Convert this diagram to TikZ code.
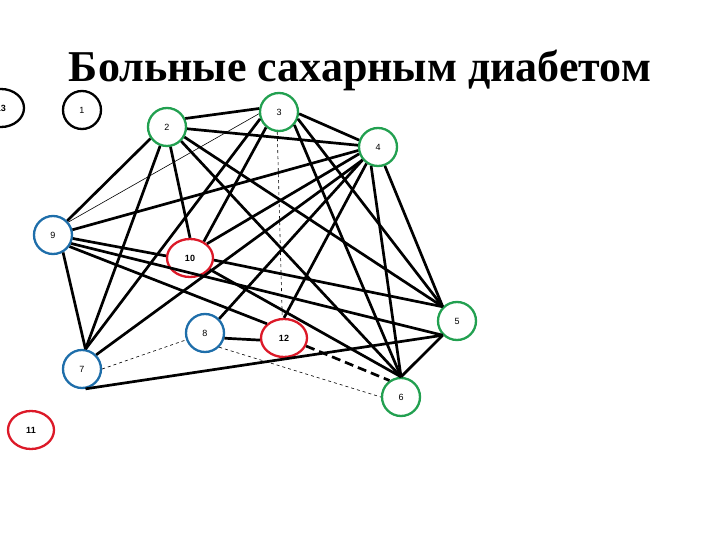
\documentclass[tikz,border=0pt]{standalone}
\usepackage{fontspec}
\setmainfont{Liberation Serif}
\newfontfamily\lab{Liberation Sans}
\usetikzlibrary{shapes.geometric}
\definecolor{gr}{RGB}{34,160,80}
\definecolor{bl}{RGB}{30,110,170}
\definecolor{rd}{RGB}{220,25,40}
\begin{document}
\begin{tikzpicture}[x=1pt,y=-1pt,
  vtx/.style={circle,draw,line width=2.3pt,minimum size=38pt,inner sep=0pt,fill=white,font=\lab\fontsize{9}{10}\selectfont},
  ell/.style={ellipse,draw,line width=2.3pt,minimum width=46pt,minimum height=38pt,inner sep=0pt,fill=white,font=\lab\bfseries\fontsize{9}{10}\selectfont},
  edge/.style={line width=2.7pt},
  thinedge/.style={line width=0.6pt},
  dashedge/.style={line width=0.6pt,dashed},
  bigdash/.style={line width=2.7pt,dash pattern=on 9pt off 5pt}]
\useasboundingbox (0,0) rectangle (720,540);
\node[anchor=base,font=\bfseries\fontsize{44}{52}\selectfont] (title) at (360,82) {Больные сахарным диабетом};
\node[ell] (n13) at (1,108) {13};
\node[vtx] (n1) at (82,110) {1};
\node[vtx,draw=gr] (n2) at (167,127) {2};
\node[vtx,draw=gr] (n3) at (279,112) {3};
\node[vtx,draw=gr] (n4) at (378,147) {4};
\node[vtx,draw=bl] (n9) at (53,235) {9};
\node[ell,draw=rd] (n10) at (190,258) {10};
\node[vtx,draw=bl] (n8) at (205,333) {8};
\node[ell,draw=rd] (n12) at (284,338) {12};
\node[vtx,draw=gr] (n5) at (457,321) {5};
\node[vtx,draw=gr] (n6) at (401,397) {6};
\node[vtx,draw=bl] (n7) at (82,369) {7};
\node[ell,draw=rd] (n11) at (31,430) {11};
% thick edges
\draw[edge] (n2.25) -- (n3.170);
\draw[edge] (n2.-5) -- (n4.175);
\draw[edge] (n3.-5) -- (n4.160);
\draw[edge] (n2.215) -- (n9.45);
\draw[edge] (n4.190) -- (n9.15);
\draw[edge] (n2.280) -- (n10.north);
\draw[edge] (n2.250) -- (n7.80);
\draw[edge] (n3.200) -- (n7.80);
\draw[edge] (n9.300) -- (n7.80);
\draw[edge] (n4.220) -- (n7.45);
\draw[edge] (n3.230) -- (n10.50);
\draw[edge] (n4.200) -- (n10.40);
\draw[edge] (n4.220) -- (n8.45);
\draw[edge] (n4.235) -- (n12.north);
\draw[edge] (n4.250) -- (n6.north);
\draw[edge] (n4.290) -- (n5.north west);
\draw[edge] (n3.-20) -- (n5.north west);
\draw[edge] (n3.-40) -- (n6.north);
\draw[edge] (n2.-30) -- (n5.north west);
\draw[edge] (n2.-45) -- (n6.north);
\draw[edge] (n9.-10) -- (n10.175);
\draw[edge] (n9.-25) -- (n5.south west);
\draw[edge] (n9.-35) -- (n12.north west);
\draw[edge] (n10.-5) -- (n5.north west);
\draw[edge] (n10.-30) -- (n6.north);
\draw[edge] (n8.-15) -- (n12.185);
\draw[edge] (n7.-80) -- (n5.south west);
\draw[edge] (n5.south west) -- (n6.north);
% thin / dashed edges
\draw[thinedge] (n3.185) -- (n9.40);
\draw[dashedge] (n3.265) -- (n12.95);
\draw[dashedge] (n7.east) -- (n8.200);
\draw[dashedge] (n8.-45) -- (n6.west);
\draw[bigdash] (n12.-20) -- (n6.125);
\end{tikzpicture}
\end{document}
